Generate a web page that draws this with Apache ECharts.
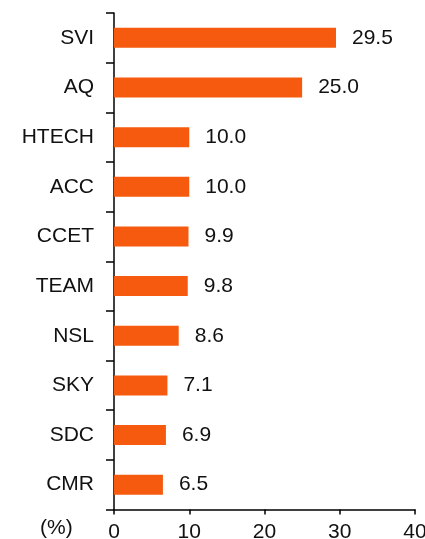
<!DOCTYPE html>
<html>
<head>
<meta charset="utf-8">
<script src="https://cdn.jsdelivr.net/npm/echarts@6/dist/echarts.min.js"></script>
<style>
  html, body { margin: 0; padding: 0; background: #fff; }
  #chart { width: 425px; height: 539px; }
</style>
</head>
<body>
<div id="chart"></div>
<script>
// categories top -> bottom
const categories = ['SVI', 'AQ', 'HTECH', 'ACC', 'CCET', 'TEAM', 'NSL', 'SKY', 'SDC', 'CMR']
const values = [29.5, 25.0, 10.0, 10.0, 9.9, 9.8, 8.6, 7.1, 6.9, 6.5]
const xTicks = [0, 10, 20, 30, 40]
const unitLabel = '(%)'

const font = 'Arial, "Liberation Sans", sans-serif'
const chart = echarts.init(document.getElementById('chart'))

chart.setOption({
  animation: false,
  grid: { left: 114, right: 10, top: 13, bottom: 29.5, outerBoundsMode: 'none' },
  xAxis: {
    type: 'value',
    min: xTicks[0],
    max: xTicks[xTicks.length - 1],
    interval: 10,
    splitLine: { show: false },
    axisLine: { show: true, lineStyle: { color: '#000', width: 1.5 } },
    axisTick: { show: true, length: 5, lineStyle: { color: '#000', width: 1.5 } },
    axisLabel: { color: '#111', fontSize: 21, fontFamily: font, margin: 12 }
  },
  yAxis: {
    type: 'category',
    inverse: true,
    data: categories,
    axisLine: { show: true, lineStyle: { color: '#000', width: 1.5 } },
    axisTick: { show: true, length: 8, lineStyle: { color: '#000', width: 1.5 } },
    axisLabel: { color: '#111', fontSize: 21, fontFamily: font, margin: 20 }
  },
  graphic: [{
    type: 'text',
    left: 40,
    top: 518,
    style: { text: unitLabel, fontSize: 21, fontFamily: font, fill: '#111' }
  }],
  series: [{
    type: 'bar',
    data: values,
    barWidth: 20,
    itemStyle: { color: '#F55A0E' },
    label: {
      show: true,
      position: 'right',
      distance: 16,
      color: '#111',
      fontSize: 21,
      fontFamily: font,
      formatter: p => p.value.toFixed(1)
    }
  }]
})
</script>
</body>
</html>
